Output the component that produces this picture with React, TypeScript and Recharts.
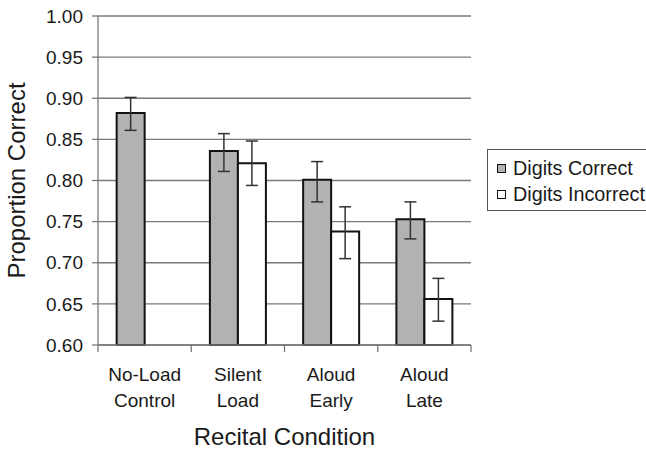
import {
  Bar,
  BarChart,
  CartesianGrid,
  ErrorBar,
  Legend,
  XAxis,
  YAxis,
} from 'recharts';

// Recital conditions (two-line tick labels)
const CONDITIONS = [
  ['No-Load', 'Control'],
  ['Silent', 'Load'],
  ['Aloud', 'Early'],
  ['Aloud', 'Late'],
];

const DIGITS_CORRECT = [0.882, 0.836, 0.801, 0.753];
const DIGITS_CORRECT_ERR = [
  [0.021, 0.019],
  [0.025, 0.021],
  [0.027, 0.022],
  [0.024, 0.021],
];

const DIGITS_INCORRECT = [null, 0.821, 0.738, 0.656];
const DIGITS_INCORRECT_ERR = [null, [0.027, 0.027], [0.033, 0.03], [0.027, 0.025]];

const Y_TICKS = [0.6, 0.65, 0.7, 0.75, 0.8, 0.85, 0.9, 0.95, 1.0];

const FONT = 'Arial, "Liberation Sans", sans-serif';
const TEXT = '#1a1a1a';
const GRID = '#7a7a7a';
const GRAY_FILL = '#b2b2b2';

const PLOT_W = 373;
const BAND = PLOT_W / CONDITIONS.length;

const data = CONDITIONS.map((c, i) => ({
  name: c.join(' '),
  lines: c,
  correct: DIGITS_CORRECT[i],
  correctErr: DIGITS_CORRECT_ERR[i],
  incorrect: DIGITS_INCORRECT[i],
  incorrectErr: DIGITS_INCORRECT_ERR[i],
}));

function CategoryTick(props: any) {
  const { x, y, index, payload } = props;
  const lines = CONDITIONS[index] ?? [String(payload.value)];
  return (
    <g>
      <line x1={x - BAND / 2} y1={y - 8} x2={x - BAND / 2} y2={y - 1} stroke={GRID} strokeWidth={1.3} />
      {index === CONDITIONS.length - 1 && (
        <line x1={x + BAND / 2} y1={y - 8} x2={x + BAND / 2} y2={y - 1} stroke={GRID} strokeWidth={1.3} />
      )}
      <text x={x} y={y + 28} textAnchor="middle" fill={TEXT} fontSize={19} fontFamily={FONT}>
        {lines.map((l, i) => (
          <tspan key={i} x={x} dy={i === 0 ? 0 : 26}>
            {l}
          </tspan>
        ))}
      </text>
    </g>
  );
}

function LegendBox() {
  const items = [
    { label: 'Digits Correct', fill: GRAY_FILL },
    { label: 'Digits Incorrect', fill: '#ffffff' },
  ];
  return (
    <div
      style={{
        border: '1.3px solid #555',
        width: 175,
        height: 62,
        boxSizing: 'border-box',
        paddingTop: 5,
        paddingLeft: 9,
        fontFamily: FONT,
        fontSize: 19.8,
        color: TEXT,
        background: '#fff',
      }}
    >
      {items.map((it) => (
        <div key={it.label} style={{ display: 'flex', alignItems: 'center', height: 26, whiteSpace: 'nowrap' }}>
          <span
            style={{
              display: 'inline-block',
              width: 7,
              height: 7,
              background: it.fill,
              border: '1.5px solid #111',
              marginRight: 7,
            }}
          />
          <span>{it.label}</span>
        </div>
      ))}
    </div>
  );
}

export default function App() {
  return (
    <div style={{ position: 'absolute', left: 0, top: 0, width: 646, height: 450, overflow: 'hidden', background: '#fff' }}>
      <BarChart
        width={646}
        height={450}
        data={data}
        margin={{ top: 16, right: 175, left: 0, bottom: 0 }}
        barCategoryGap="20%"
        barGap={0}
      >
        <CartesianGrid vertical={false} stroke={GRID} strokeWidth={1.3} />
        <XAxis
          dataKey="name"
          height={105}
          axisLine={{ stroke: GRID, strokeWidth: 1.3 }}
          tickLine={false}
          tick={<CategoryTick />}
          interval={0}
          label={{
            value: 'Recital Condition',
            position: 'insideBottom',
            offset: 5,
            fill: TEXT,
            fontSize: 24,
            fontFamily: FONT,
          }}
        />
        <YAxis
          domain={[0.6, 1.0]}
          ticks={Y_TICKS}
          width={98}
          tickFormatter={(v: number) => v.toFixed(2)}
          tick={{ fill: TEXT, fontSize: 19, fontFamily: FONT }}
          tickSize={6}
          tickMargin={9}
          axisLine={{ stroke: GRID, strokeWidth: 1.3 }}
          tickLine={{ stroke: GRID, strokeWidth: 1.3 }}
          label={{
            value: 'Proportion Correct',
            angle: -90,
            position: 'insideLeft',
            offset: 16,
            fill: TEXT,
            fontSize: 24,
            fontFamily: FONT,
            style: { textAnchor: 'middle' },
          }}
        />
        <YAxis
          yAxisId="frame"
          orientation="right"
          width={0}
          domain={[0.6, 1.0]}
          tick={false}
          tickLine={false}
          axisLine={{ stroke: GRID, strokeWidth: 1.3 }}
        />
        <Legend
          content={<LegendBox />}
          layout="horizontal"
          verticalAlign="middle"
          align="center"
          wrapperStyle={{ position: 'absolute', left: 487, top: 149, width: 175, height: 62 }}
        />
        <Bar
          dataKey="correct"
          name="Digits Correct"
          fill={GRAY_FILL}
          stroke="#111"
          strokeWidth={2}
          isAnimationActive={false}
        >
          <ErrorBar dataKey="correctErr" width={6} stroke="#333" strokeWidth={1.5} direction="y" />
        </Bar>
        <Bar
          dataKey="incorrect"
          name="Digits Incorrect"
          fill="#ffffff"
          stroke="#111"
          strokeWidth={2}
          isAnimationActive={false}
        >
          <ErrorBar dataKey="incorrectErr" width={6} stroke="#333" strokeWidth={1.5} direction="y" />
        </Bar>
      </BarChart>
    </div>
  );
}
